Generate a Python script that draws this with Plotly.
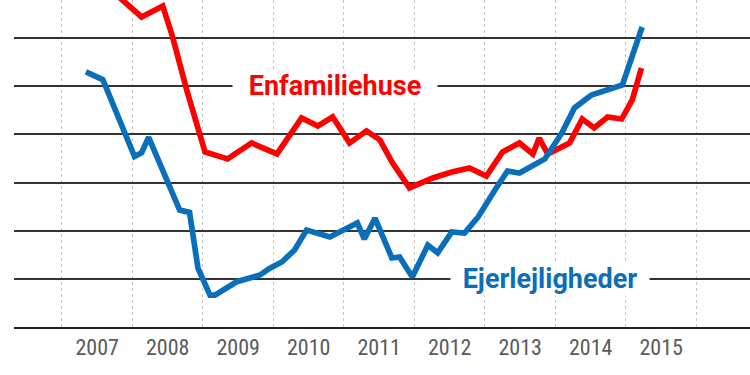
import plotly.graph_objects as go

# Ejerlejligheder (blue)
ejer_x = [2007.34, 2007.58, 2008.03, 2008.13, 2008.23, 2008.53, 2008.67, 2008.81, 2008.93,
          2009.10, 2009.17, 2009.48, 2009.81, 2009.95, 2010.12, 2010.30, 2010.47, 2010.80,
          2010.98, 2011.19, 2011.29, 2011.44, 2011.68, 2011.79, 2011.97, 2012.19, 2012.33,
          2012.53, 2012.71, 2012.90, 2013.14, 2013.32, 2013.49, 2013.85, 2014.09, 2014.27,
          2014.51, 2014.95, 2015.23]
ejer_y = [106.5, 105.7, 97.7, 98.1, 99.7, 94.4, 92.15, 91.9, 86.1,
          83.3, 83.3, 84.7, 85.4, 86.1, 86.75, 88.0, 90.07, 89.35,
          90.07, 90.8, 89.14, 91.3, 87.17, 87.27, 85.19, 88.5, 87.7,
          89.87, 89.76, 91.4, 94.2, 96.2, 96.0, 97.45, 100.15, 102.75,
          104.1, 105.13, 111.16]

# Enfamiliehuse (red)
enf_x = [2007.34, 2008.13, 2008.43, 2008.57, 2008.77, 2009.03, 2009.35, 2009.69, 2010.05,
         2010.40, 2010.63, 2010.84, 2011.08, 2011.32, 2011.51, 2011.69, 2011.93, 2012.26,
         2012.53, 2012.78, 2013.02, 2013.25, 2013.49, 2013.68, 2013.77, 2013.89, 2014.20,
         2014.38, 2014.55, 2014.74, 2014.94, 2015.09, 2015.22]
enf_y = [117.3, 112.2, 113.34, 110.12, 104.61, 98.18, 97.45, 99.11, 97.97,
         101.71, 100.88, 101.81, 99.11, 100.36, 99.42, 97.03, 94.44, 95.48,
         96.1, 96.51, 95.68, 98.18, 99.11, 97.97, 99.63, 97.97, 99.11,
         101.6, 100.67, 101.81, 101.6, 103.58, 106.9]

year_ticks = [2007.5, 2008.5, 2009.5, 2010.5, 2011.5, 2012.5, 2013.5, 2014.5, 2015.5]
year_labels = ["2007", "2008", "2009", "2010", "2011", "2012", "2013", "2014", "2015"]
year_bounds = [2007, 2008, 2009, 2010, 2011, 2012, 2013, 2014, 2015, 2016]
y_grid = [80, 85, 90, 95, 100, 105, 110]

RED = "#fe0000"
BLUE = "#0a6fbb"

fig = go.Figure()
fig.add_trace(go.Scatter(x=enf_x, y=enf_y, mode="lines", name="Enfamiliehuse",
                         line=dict(color=RED, width=5.7)))
fig.add_trace(go.Scatter(x=ejer_x, y=ejer_y, mode="lines", name="Ejerlejligheder",
                         line=dict(color=BLUE, width=5.7)))

fig.add_annotation(x=2010.87, y=105, text="<b>Enfamiliehuse</b>", showarrow=False,
                   font=dict(family="Roboto", size=27, color=RED),
                   bgcolor="white", width=204, borderpad=0, xanchor="center", yanchor="middle")
fig.add_annotation(x=2013.93, y=85, text="<b>Ejerlejligheder</b>", showarrow=False,
                   font=dict(family="Roboto", size=27, color=BLUE),
                   bgcolor="white", width=198, borderpad=0, xanchor="center", yanchor="middle")

fig.update_layout(
    width=750, height=375,
    margin=dict(l=14, r=0, t=0, b=48),
    paper_bgcolor="white", plot_bgcolor="white",
    showlegend=False,
    xaxis=dict(range=[2006.32, 2016.76], tickvals=year_ticks, ticktext=year_labels,
               showgrid=False, zeroline=False, ticks="",
               showline=True, linecolor="#222", linewidth=2,
               tickfont=dict(family="Liberation Sans Narrow, Roboto Condensed, Roboto", size=22, color="#5a5a5a"),
               minor=dict(tickvals=year_bounds, showgrid=True, griddash="dot",
                          gridcolor="#c4c4c4", gridwidth=1, ticks="")),
    yaxis=dict(range=[80, 113.96], tickvals=y_grid, showticklabels=False,
               showgrid=True, gridcolor="#333", gridwidth=1.6, zeroline=False, ticks=""),
)

fig.write_html("out.html", config={"displayModeBar": False},
               post_script="document.body.style.margin='0';")
